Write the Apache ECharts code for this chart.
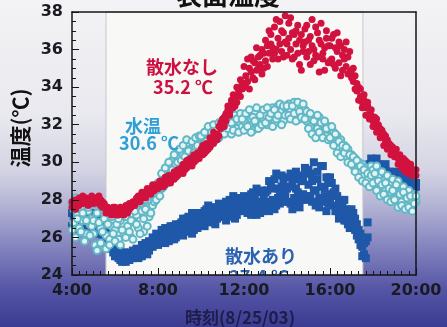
<!DOCTYPE html>
<html>
<head>
<meta charset="utf-8">
<script src="https://cdn.jsdelivr.net/npm/echarts@6/dist/echarts.min.js"></script>
<style>
  html, body { margin: 0; padding: 0; overflow: hidden; }
  #chart { width: 447px; height: 327px; }
</style>
</head>
<body>
<div id="chart"></div>
<script>
// Surface temperatures on 8/25/03, two sensors per surface,
// one reading every 5 minutes from 4:00 to 20:00.
const startHour = 4;
const stepMinutes = 5;

// 散水なし (no sprinkling), sensor A
const noSprinkleA = [
  27.6,27.8,27.5,27.9,27.7,28.0,27.8,28.1,27.9,28.0,27.8,28.1,
  28.0,27.9,28.1,27.8,28.0,27.9,27.7,27.5,27.4,27.3,27.5,27.4,
  27.3,27.5,27.2,27.4,27.3,27.5,27.4,27.6,27.5,27.8,27.7,27.9,
  27.9,28.0,28.2,28.1,28.3,28.4,28.3,28.5,28.6,28.5,28.7,28.8,
  28.8,28.7,28.9,29.0,28.8,29.1,29.0,29.2,29.3,29.1,29.4,29.3,
  29.5,29.6,29.4,29.8,29.7,30.0,29.9,30.1,30.0,30.3,30.2,30.4,
  30.5,30.4,30.7,30.6,30.9,30.8,31.1,31.0,31.3,31.5,31.4,31.8,
  32.0,32.4,32.2,32.8,32.5,33.1,32.9,33.4,33.2,33.8,33.5,34.2,
  34.0,34.6,34.3,35.0,34.8,34.5,35.3,34.9,35.6,35.2,34.7,35.8,
  35.4,36.2,35.8,36.8,35.5,37.2,36.0,36.6,37.5,35.9,36.9,37.8,
  36.3,37.4,36.0,35.5,36.8,37.0,35.8,36.5,34.9,36.2,37.1,35.6,
  36.5,35.2,37.6,36.0,35.7,36.9,34.8,36.3,35.5,36.1,37.0,35.3,
  36.2,35.5,36.8,35.0,35.9,36.4,34.6,35.7,36.0,35.1,35.6,34.8,
  34.9,34.3,34.6,33.8,34.0,33.5,33.2,33.6,32.9,33.0,32.6,32.8,
  32.2,31.9,32.3,31.7,31.8,31.4,31.5,31.1,31.2,30.8,30.9,30.5,
  30.6,30.4,30.2,30.3,30.0,29.9,30.1,29.8,29.7,29.9,29.6,29.5,
  29.6
];
// 散水なし, sensor B
const noSprinkleB = [
  27.9,27.6,28.0,27.7,28.1,27.8,28.2,27.9,28.1,27.7,28.0,28.2,
  27.8,28.1,27.9,28.2,27.7,27.6,27.8,27.3,27.6,27.5,27.2,27.6,
  27.6,27.2,27.4,27.6,27.5,27.2,27.7,27.3,27.8,27.6,27.9,27.7,
  28.1,28.2,27.9,28.4,28.2,28.1,28.6,28.4,28.3,28.8,28.5,28.6,
  28.6,29.0,28.8,28.7,29.2,28.9,29.3,28.9,29.1,29.5,29.2,29.6,
  29.4,29.7,29.9,29.6,30.1,29.8,30.2,29.8,30.4,30.1,30.5,30.2,
  30.7,30.9,30.5,31.0,30.7,31.3,31.2,31.6,31.4,31.2,31.9,32.1,
  32.3,31.9,32.6,33.0,32.7,33.3,33.6,33.0,34.0,33.6,34.4,33.9,
  35.1,34.2,35.5,33.9,35.6,35.4,34.4,36.1,35.0,35.7,36.0,35.0,
  36.5,35.1,37.0,36.3,36.1,35.8,37.6,35.5,36.3,37.0,35.6,36.4,
  35.7,36.6,37.7,36.9,35.6,36.3,37.3,35.2,36.8,35.9,36.4,37.3,
  35.9,36.7,36.2,35.4,37.2,35.6,36.5,37.4,35.8,34.9,36.6,36.2,
  35.4,36.6,35.2,36.1,36.9,35.3,36.2,34.9,35.5,36.4,34.7,35.9,
  34.5,35.0,33.9,34.2,33.3,33.9,32.9,33.3,32.5,33.2,32.3,32.5,
  31.9,32.4,31.6,32.0,31.3,31.7,30.9,31.4,30.7,31.0,30.4,30.8,
  30.3,30.7,29.9,30.4,29.7,30.2,29.5,30.0,29.4,29.8,29.3,29.4,
  29.3
];

// 水温 (water temperature), sensor A
const waterA = [
  27.8,26.8,28.1,27.2,26.5,27.6,26.9,27.9,26.2,27.4,26.7,27.0,
  26.2,25.6,27.3,25.4,26.5,27.6,25.5,26.1,27.2,25.9,26.6,27.4,
  26.4,27.3,25.9,26.9,27.5,26.2,27.1,26.6,27.6,26.0,27.2,26.8,
  27.2,26.5,27.8,27.4,26.3,28.0,27.6,27.1,28.3,27.7,28.1,28.5,
  28.4,28.9,28.6,29.2,29.0,29.5,29.3,29.8,30.1,29.7,30.3,30.5,
  30.2,30.6,30.4,30.9,30.5,31.0,30.7,30.4,31.1,30.8,31.2,30.6,
  30.9,31.3,31.0,31.5,31.2,31.7,31.4,31.1,31.8,31.5,31.3,31.9,
  31.6,32.0,31.7,32.3,31.9,31.5,32.2,32.0,31.8,32.4,32.1,31.9,
  32.2,31.8,32.5,32.0,32.3,31.7,32.6,32.1,32.4,31.9,32.7,32.2,
  32.5,32.0,32.8,32.3,32.9,32.1,32.6,33.0,32.4,32.7,32.2,32.9,
  32.6,33.1,32.8,32.4,33.2,32.7,32.9,32.3,33.0,32.5,32.8,32.2,
  32.5,31.9,32.3,31.6,32.1,31.8,32.4,31.5,32.0,31.7,31.4,31.9,
  31.8,31.3,31.6,31.0,31.4,30.8,31.2,30.6,30.9,30.3,30.7,30.1,
  30.4,29.8,30.2,29.6,30.0,29.4,29.9,29.3,29.7,29.1,29.5,29.8,
  29.6,28.9,29.8,29.2,28.7,29.5,29.0,28.5,29.3,28.8,28.4,29.1,
  28.6,28.1,29.0,28.4,27.9,28.7,28.2,27.7,28.5,28.0,27.6,28.3,
  27.9
];
// 水温, sensor B
const waterB = [
  26.4,27.5,26.0,27.0,27.9,26.3,27.3,25.8,26.9,27.6,26.1,26.6,
  26.9,27.8,25.3,26.8,25.7,26.3,27.0,25.4,26.7,25.6,27.1,26.2,
  25.8,26.7,27.0,25.6,26.4,27.4,26.0,27.5,26.3,26.9,25.9,27.4,
  26.7,27.9,26.2,28.2,27.0,27.5,26.6,28.4,27.3,28.6,27.9,28.0,
  28.9,28.2,29.4,28.7,29.7,28.9,30.0,29.2,29.6,30.4,29.9,30.0,
  30.7,30.1,30.9,30.3,31.2,30.6,30.2,31.1,30.5,31.3,30.9,31.4,
  31.4,30.8,31.6,31.1,31.9,30.9,31.6,32.0,31.2,31.7,32.1,31.5,
  32.2,31.5,32.5,31.8,32.6,32.1,31.7,32.5,32.3,31.6,32.6,32.3,
  31.7,32.6,31.9,32.8,31.6,32.4,32.2,32.9,31.8,32.5,32.0,32.8,
  32.1,32.9,32.4,32.6,31.9,32.8,32.3,32.5,33.1,32.0,33.0,32.5,
  33.0,32.5,32.3,33.0,32.6,32.2,33.2,32.7,32.4,33.1,32.3,32.7,
  31.8,32.6,31.5,32.2,31.3,32.5,31.6,32.1,31.3,32.2,31.8,31.2,
  31.3,31.9,30.9,31.5,30.5,31.1,30.3,30.9,30.5,30.8,30.0,30.4,
  29.9,30.3,29.5,30.1,29.2,29.8,29.0,29.6,28.9,29.4,28.7,29.3,
  28.9,29.4,28.5,29.0,28.2,28.8,28.3,28.9,28.0,28.6,27.9,28.5,
  28.0,28.8,27.6,28.3,27.7,28.4,27.5,28.1,27.6,28.2,27.4,27.8,
  28.2
];

// 散水あり (with sprinkling), sensor A
const sprinkledA = [
  27.3,26.8,27.5,27.0,26.6,27.2,26.9,27.4,26.5,27.1,26.7,27.3,
  26.9,26.4,27.1,26.2,26.7,26.0,26.5,26.3,25.9,26.1,25.7,25.5,
  25.3,25.0,25.2,24.8,25.1,24.9,24.7,25.0,24.8,25.1,24.9,25.2,
  25.1,24.9,25.3,25.0,25.4,25.2,25.6,25.3,25.7,25.5,25.9,26.0,
  25.6,26.1,25.8,26.3,25.7,26.0,26.4,25.9,26.2,26.6,26.0,26.5,
  26.3,26.8,26.1,26.6,27.0,26.4,26.9,26.2,27.2,26.7,26.5,27.1,
  26.8,27.3,26.6,27.5,27.0,26.9,27.6,27.2,26.7,27.4,27.8,27.1,
  27.2,27.7,26.9,27.5,28.0,27.3,27.6,27.0,27.9,27.4,28.1,27.5,
  27.6,28.1,27.3,27.9,28.3,27.5,28.0,27.2,28.4,27.8,27.4,28.2,
  27.8,28.5,27.4,28.8,28.0,29.1,27.7,28.6,28.2,29.3,27.9,28.4,
  28.6,29.2,27.8,28.9,28.1,29.5,28.4,27.6,29.0,28.3,29.7,28.0,
  28.8,29.4,27.9,30.0,28.5,29.1,27.6,28.7,29.8,28.2,27.4,28.9,
  29.2,28.3,27.7,28.6,27.4,28.0,27.1,27.8,26.9,27.5,26.7,27.3,
  26.9,27.3,26.4,26.7,25.9,26.2,25.5,25.1,25.8,26.8,29.6,30.2,
  30.0,29.7,30.2,29.5,29.8,29.4,29.6,29.9,29.3,29.5,29.1,29.4,
  29.2,29.5,29.0,29.3,28.9,29.1,28.8,29.2,28.7,29.0,28.8,28.6,
  28.7
];
// 散水あり, sensor B
const sprinkledB = [
  26.6,27.2,26.9,27.6,26.4,27.0,27.3,26.8,27.2,26.6,27.0,26.8,
  26.5,27.0,26.6,26.9,26.3,26.6,26.1,25.8,26.0,25.6,25.4,25.2,
  25.0,25.4,24.9,25.3,24.7,25.2,25.0,24.8,25.2,24.9,25.3,25.0,
  25.4,25.2,25.0,25.6,25.3,25.7,25.1,25.8,25.6,26.0,25.7,26.2,
  26.0,25.8,26.4,26.1,26.5,26.2,25.8,26.6,26.3,25.9,26.7,26.2,
  26.7,26.2,27.0,26.5,26.3,27.1,26.6,27.3,26.4,26.9,27.3,26.8,
  27.2,26.7,27.4,26.9,27.7,27.3,26.8,27.1,27.6,27.0,27.3,27.7,
  27.5,27.1,27.9,27.3,27.1,27.8,28.2,27.4,27.2,28.0,27.6,27.9,
  28.2,27.4,28.0,27.6,27.2,28.4,27.7,28.6,27.9,27.3,28.5,27.7,
  28.4,27.6,29.0,27.9,28.6,27.5,29.4,28.1,27.8,28.7,29.0,28.2,
  27.9,28.7,29.4,27.5,29.1,28.6,27.9,29.3,28.0,29.0,28.2,29.4,
  29.6,28.2,29.0,28.5,27.7,29.5,28.1,29.8,27.9,28.6,29.2,27.8,
  28.0,28.9,28.4,27.4,28.2,27.0,27.6,27.2,28.0,26.9,27.1,26.5,
  27.5,26.5,27.0,26.1,26.4,25.6,25.0,25.7,24.9,26.0,29.9,29.5,
  29.6,30.1,29.4,29.9,29.2,29.7,29.4,29.0,29.5,29.2,28.9,29.3,
  29.0,29.3,28.8,29.1,29.4,28.9,28.7,29.0,28.8,28.5,28.9,28.7,
  28.9
];

// Daytime band (hours) drawn as the white panel behind the points
const dayBand = [5.58, 17.53];

const times = noSprinkleA.map((_, i) => startHour + (i * stepMinutes) / 60);
const pairs = (...sets) => sets.flatMap(arr => arr.map((v, i) => [times[i], v]));

const bgStops = [
  { offset: 0.00, color: '#f3f3f5' },
  { offset: 0.35, color: '#e9e9ef' },
  { offset: 0.52, color: '#d4d4e4' },
  { offset: 0.62, color: '#b6b6d6' },
  { offset: 0.76, color: '#8282be' },
  { offset: 0.88, color: '#5757a7' },
  { offset: 1.00, color: '#3a3b92' }
];

const axisColor = '#151515';
const tickFont = { fontFamily: 'DejaVu Sans', fontWeight: 'bold', fontSize: 16, color: '#1a1a22' };
const jp = '"Noto Sans CJK JP", sans-serif';

const chart = echarts.init(document.getElementById('chart'), null, { renderer: 'canvas' });

chart.setOption({
  animation: false,
  grid: { left: 72, right: 31, top: 12, bottom: 52, show: false },
  xAxis: [
    {
      type: 'value', min: 4, max: 20, interval: 4, z: 10,
      axisLine: { lineStyle: { color: axisColor, width: 1.5 } },
      axisTick: { inside: true, length: 7, lineStyle: { color: axisColor, width: 1 } },
      minorTick: { show: true, splitNumber: 12, length: 4, lineStyle: { color: axisColor, width: 1 } },
      splitLine: { show: false },
      axisLabel: Object.assign({ formatter: v => v + ':00', margin: 8 }, tickFont)
    },
    {
      type: 'value', position: 'top', min: 4, max: 20, z: 10,
      axisLine: { show: true, lineStyle: { color: axisColor, width: 1.5 } },
      axisTick: { show: false }, axisLabel: { show: false }, splitLine: { show: false }
    }
  ],
  yAxis: [
    {
      type: 'value', min: 24, max: 38, interval: 2, z: 10,
      axisLine: { show: true, lineStyle: { color: axisColor, width: 1.5 } },
      axisTick: { show: true, inside: true, length: 7, lineStyle: { color: axisColor, width: 1 } },
      minorTick: { show: true, splitNumber: 4, length: 4, lineStyle: { color: axisColor, width: 1 } },
      splitLine: { show: false },
      axisLabel: Object.assign({ margin: 9 }, tickFont)
    },
    {
      type: 'value', position: 'right', min: 24, max: 38, z: 10,
      axisLine: { show: true, lineStyle: { color: axisColor, width: 1.5 } },
      axisTick: { show: false }, axisLabel: { show: false }, splitLine: { show: false }
    }
  ],
  graphic: [
    {
      type: 'rect', z: -100, silent: true,
      shape: { x: 0, y: 0, width: 447, height: 327 },
      style: { fill: new echarts.graphic.LinearGradient(0, 0, 0, 1, bgStops) }
    },
    {
      type: 'text', z: 20, silent: true, x: 228, y: -5,
      style: { text: '表面温度', font: 'bold 26px ' + jp, fill: '#111', align: 'center', verticalAlign: 'middle' }
    },
    {
      type: 'text', z: 20, silent: true, x: 20, y: 128, rotation: Math.PI / 2,
      style: { text: '温度(℃)', font: 'bold 21px ' + jp, fill: '#111', align: 'center', verticalAlign: 'middle' }
    },
    {
      type: 'text', z: 20, silent: true, x: 240, y: 318,
      style: { text: '時刻(8/25/03)', font: 'bold 17px ' + jp, fill: '#1d1d4a', align: 'center', verticalAlign: 'middle' }
    },
    {
      type: 'text', z: 20, silent: true, x: 182, y: 67,
      style: { text: '散水なし', font: 'bold 18px ' + jp, fill: '#cc1040', align: 'center', verticalAlign: 'middle' }
    },
    {
      type: 'text', z: 20, silent: true, x: 183, y: 87,
      style: { text: '35.2 ℃', font: 'bold 18px ' + jp, fill: '#cc1040', align: 'center', verticalAlign: 'middle' }
    },
    {
      type: 'text', z: 20, silent: true, x: 143, y: 126,
      style: { text: '水温', font: 'bold 18px ' + jp, fill: '#2f9fd8', align: 'center', verticalAlign: 'middle' }
    },
    {
      type: 'text', z: 20, silent: true, x: 149, y: 143,
      style: { text: '30.6 ℃', font: 'bold 18px ' + jp, fill: '#2f9fd8', align: 'center', verticalAlign: 'middle' }
    },
    {
      type: 'text', z: 20, silent: true, x: 261, y: 256,
      style: { text: '散水あり', font: 'bold 18px ' + jp, fill: '#2c62b2', align: 'center', verticalAlign: 'middle' }
    },
    {
      type: 'text', z: 4, silent: true, x: 259, y: 277,
      style: { text: '27.4 ℃', font: 'bold 18px ' + jp, fill: '#2c62b2', align: 'center', verticalAlign: 'middle' }
    },
    {
      // strip below the plot, repainted with the page gradient
      type: 'rect', z: 5, silent: true,
      shape: { x: 0, y: 275, width: 447, height: 52 },
      style: { fill: { type: 'linear', x: 0, y: 0, x2: 0, y2: 327, global: true, colorStops: bgStops } }
    }
  ],
  series: [
    {
      type: 'scatter', data: [], z: 1, silent: true,
      markArea: {
        silent: true,
        itemStyle: { color: '#f8f8f6', borderColor: '#c6c6ce', borderWidth: 1 },
        data: [[{ xAxis: dayBand[0] }, { xAxis: dayBand[1] }]]
      }
    },
    {
      name: '散水あり', type: 'scatter', z: 3, silent: true,
      data: pairs(sprinkledA, sprinkledB), symbol: 'rect', symbolSize: 8,
      itemStyle: { color: '#1f58a8', opacity: 1 }
    },
    {
      name: '水温', type: 'scatter', z: 4, silent: true,
      data: pairs(waterA, waterB), symbol: 'circle', symbolSize: 7,
      itemStyle: { color: '#e2f5f5', borderColor: '#62b7c6', borderWidth: 2, opacity: 1 }
    },
    {
      name: '散水なし', type: 'scatter', z: 5, silent: true,
      data: pairs(noSprinkleA, noSprinkleB), symbol: 'circle', symbolSize: 7,
      itemStyle: { color: '#d2123e', opacity: 1 }
    }
  ]
});
</script>
</body>
</html>
